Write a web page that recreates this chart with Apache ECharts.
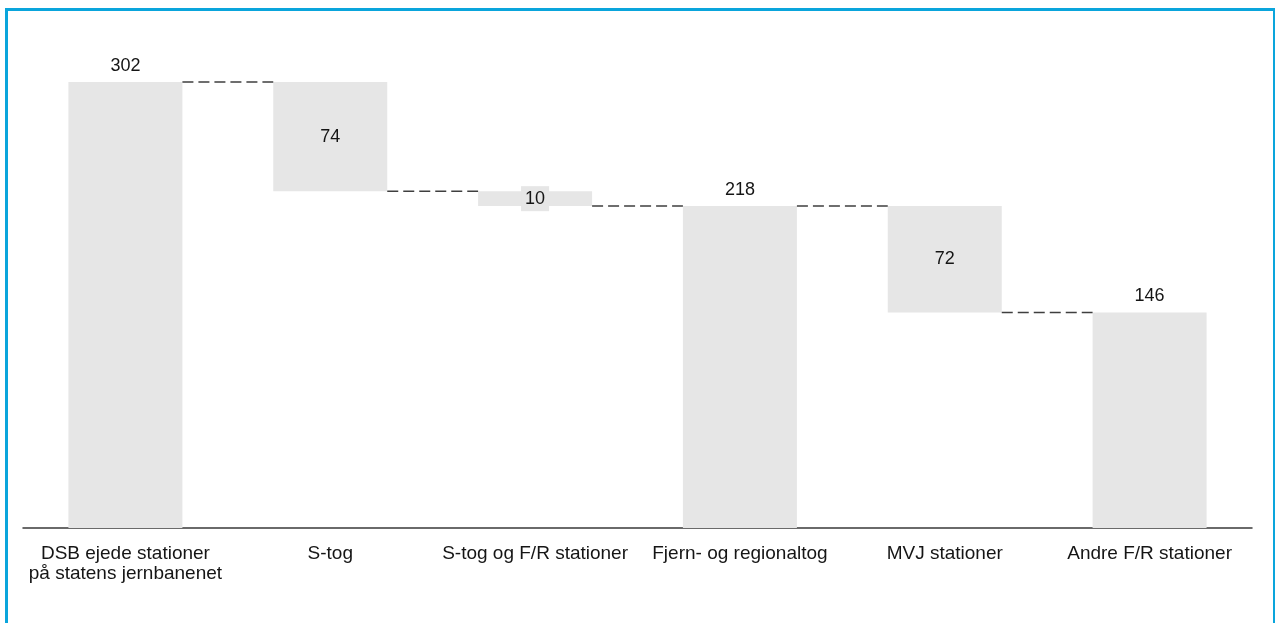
<!DOCTYPE html>
<html>
<head>
<meta charset="utf-8">
<script src="https://cdn.jsdelivr.net/npm/echarts@6/dist/echarts.min.js"></script>
<style>
  html, body { margin: 0; padding: 0; background: #fff; }
  #frame {
    position: absolute; left: 5px; top: 8px; width: 1265px; height: 640px;
    border-left: 3px solid #0aa5dc; border-top: 3px solid #0aa5dc; border-right: 2px solid #0aa5dc;
  }
  #chart { position: absolute; left: 0; top: 0; width: 1276px; height: 623px; }
</style>
</head>
<body>
<div id="frame"></div>
<div id="chart"></div>
<script>
// Waterfall: DSB-owned stations split by train type
const categories = [
  'DSB ejede stationer\npå statens jernbanenet',
  'S-tog',
  'S-tog og F/R stationer',
  'Fjern- og regionaltog',
  'MVJ stationer',
  'Andre F/R stationer'
];
const values = [302, 74, 10, 218, 72, 146];
// 'total' bars start at zero, 'minus' bars hang down from the running level
const kinds = ['total', 'minus', 'minus', 'total', 'minus', 'total'];

// Build the invisible base and the running level after each bar
const bases = [];
const levels = [];
let running = 0;
values.forEach((v, i) => {
  if (kinds[i] === 'total') {
    bases.push(0);
    running = v;
  } else {
    running = running - v;
    bases.push(running);
  }
  levels.push(running);
});
// connector i runs from bar i to bar i+1 at the level shared by both
const connectors = [];
for (let i = 0; i < values.length - 1; i++) {
  const lvl = kinds[i] === 'total' ? values[i] : levels[i];
  connectors.push([i, lvl]);
}

const BAR_W = 114;
const chart = echarts.init(document.getElementById('chart'));
chart.setOption({
  animation: false,
  textStyle: { fontFamily: 'Liberation Sans, Arial, sans-serif' },
  grid: { left: 23, right: 24, top: 82, bottom: 95 },
  xAxis: {
    type: 'category',
    data: categories,
    axisLine: { lineStyle: { color: '#3a3a3a', width: 1.5 } },
    axisTick: { show: false },
    axisLabel: {
      color: '#151515', fontSize: 19, lineHeight: 20, margin: 16, interval: 0
    }
  },
  yAxis: {
    type: 'value', min: 0, max: 302,
    show: false, splitLine: { show: false }
  },
  series: [
    {
      type: 'bar', stack: 'w', barWidth: BAR_W,
      itemStyle: { color: 'transparent' },
      data: bases, silent: true
    },
    {
      type: 'bar', stack: 'w', barWidth: BAR_W,
      itemStyle: { color: '#e6e6e6' },
      data: values.map((v, i) => ({
        value: v,
        label: kinds[i] === 'total'
          ? { show: true, position: 'top', distance: 7 }
          : (v < 20
              ? { show: true, position: 'inside', backgroundColor: '#e6e6e6', padding: [4, 4, 3, 4] }
              : { show: true, position: 'inside' })
      })),
      label: { color: '#151515', fontSize: 18 }
    },
    {
      type: 'custom',
      data: connectors,
      silent: true,
      z: 5,
      renderItem: function (params, api) {
        const i = api.value(0);
        const lvl = api.value(1);
        const a = api.coord([i, lvl]);
        const b = api.coord([i + 1, lvl]);
        return {
          type: 'line',
          shape: { x1: a[0] + BAR_W / 2, y1: a[1], x2: b[0] - BAR_W / 2, y2: b[1] },
          style: { stroke: '#3f3f3f', lineWidth: 1.5, lineDash: [11, 5] }
        };
      }
    }
  ]
});
</script>
</body>
</html>
